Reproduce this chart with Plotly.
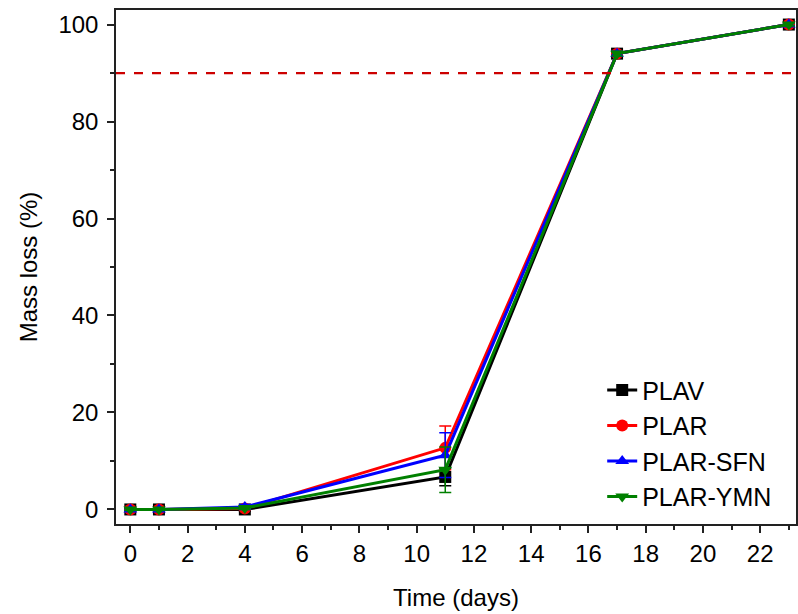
import plotly.graph_objects as go

days = [0, 1, 4, 11, 17, 23]
series_names = ["PLAV", "PLAR", "PLAR-SFN", "PLAR-YMN"]
plav = [0.0, 0.0, 0.0, 6.7, 94.0, 100.0]
plar = [0.0, 0.0, 0.2, 12.7, 94.0, 100.0]
plar_sfn = [0.0, 0.0, 0.5, 11.2, 94.0, 100.0]
plar_ymn = [0.0, 0.0, 0.3, 8.2, 94.0, 100.0]
plav_err = [0.2, 0.2, 0.3, 1.8, 0.5, 0.3]
plar_err = [0.2, 0.2, 0.3, 4.5, 0.5, 0.3]
plar_sfn_err = [0.2, 0.2, 0.5, 4.6, 0.5, 0.3]
plar_ymn_err = [0.2, 0.2, 0.3, 4.7, 0.5, 0.3]
threshold = 90

colors = ["#000000", "#FF0000", "#0000FF", "#008000"]
symbols = ["square", "circle", "triangle-up", "triangle-down"]
values = [plav, plar, plar_sfn, plar_ymn]
errors = [plav_err, plar_err, plar_sfn_err, plar_ymn_err]

fig = go.Figure()
for name, y, e, c, s in zip(series_names, values, errors, colors, symbols):
    fig.add_trace(go.Scatter(
        x=days, y=y, name=name, mode="lines+markers",
        line=dict(color=c, width=3),
        marker=dict(symbol=s, size=12, color=c),
        error_y=dict(type="data", array=e, color=c, thickness=1.5, width=6),
        cliponaxis=False,
    ))

fig.add_shape(type="line", xref="paper", yref="y", x0=0, x1=1, y0=threshold, y1=threshold,
              line=dict(color="#CC0000", width=2.2, dash="dash"))

font_family = "Liberation Sans, Arial, sans-serif"
fig.update_layout(
    width=798, height=614,
    margin=dict(l=115.6, r=0, t=10, b=90),
    paper_bgcolor="white", plot_bgcolor="white",
    font=dict(family=font_family, size=24, color="#000000"),
    showlegend=True,
    legend=dict(x=0.715, y=0.305, xanchor="left", yanchor="top",
                bgcolor="rgba(0,0,0,0)", font=dict(size=25), tracegroupgap=0),
    xaxis=dict(
        range=[-0.5, 23.25], tickmode="array", tickvals=list(range(0, 24, 2)),
        ticks="outside", ticklen=7, tickwidth=1.5, tickcolor="#222222",
        minor=dict(ticks="outside", ticklen=4, tickwidth=1.5, dtick=1, tickcolor="#222222"),
        showline=True, linecolor="#222222", linewidth=1.5, mirror=True,
        showgrid=False, zeroline=False,
        title=dict(text="Time (days)", font=dict(size=24), standoff=24),
        tickfont=dict(size=24),
    ),
    yaxis=dict(
        range=[-3, 103], tickmode="array", tickvals=[0, 20, 40, 60, 80, 100],
        ticks="outside", ticklen=7, tickwidth=1.5, tickcolor="#222222",
        minor=dict(ticks="outside", ticklen=4, tickwidth=1.5, dtick=10, tickcolor="#222222"),
        showline=True, linecolor="#222222", linewidth=1.5, mirror=True,
        showgrid=False, zeroline=False,
        ticklabelstandoff=4,
        title=dict(text="Mass loss (%)", font=dict(size=24), standoff=14),
        tickfont=dict(size=24),
    ),
)

fig.write_html("out.html")
